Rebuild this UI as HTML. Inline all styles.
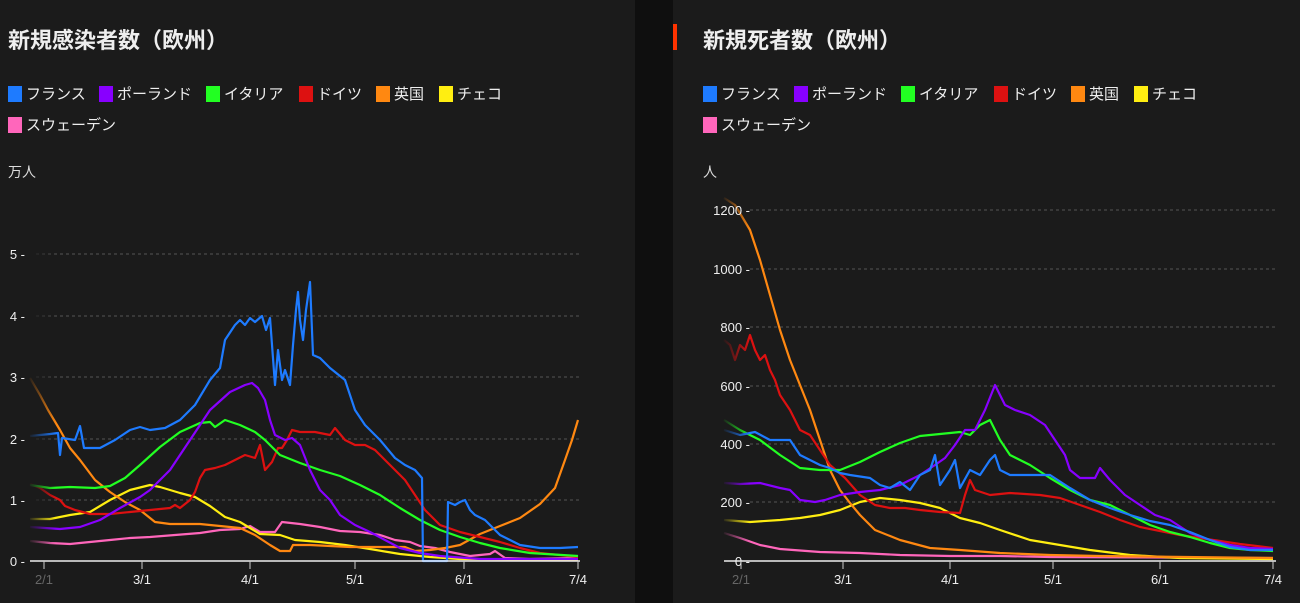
<!DOCTYPE html>
<html><head><meta charset="utf-8"><style>
html,body{margin:0;padding:0;background:#0f0f0f;width:1300px;height:603px;overflow:hidden}
svg{display:block}
text{font-family:"Liberation Sans","Noto Sans CJK JP",sans-serif;fill:#eee}
.t{font-size:22px;font-weight:bold}
.l{font-size:15px}
.k{font-size:13px;fill:#ddd}
.s{fill:none;stroke-width:2.2;stroke-linejoin:round}
.g{stroke:#555;stroke-dasharray:3 3;stroke-width:1}
</style></head><body>
<svg width="1300" height="603" viewBox="0 0 1300 603">
<defs>
<linearGradient id="fd" x1="0" x2="1"><stop offset="0" stop-color="#1b1b1b" stop-opacity="1"/><stop offset="1" stop-color="#1b1b1b" stop-opacity="0"/></linearGradient>
</defs>
<rect x="0" y="0" width="635" height="603" fill="#1b1b1b"/>
<rect x="673" y="0" width="627" height="603" fill="#1b1b1b"/>
<rect x="673" y="24" width="4" height="26" fill="#ff3300"/>

<!-- LEFT -->
<text x="8" y="48" class="t">新規感染者数（欧州）</text>
<g class="l">
<rect x="8" y="86" width="14" height="16" fill="#1e7bff"/><text x="26" y="99">フランス</text>
<rect x="99" y="86" width="14" height="16" fill="#8800ff"/><text x="117" y="99">ポーランド</text>
<rect x="206" y="86" width="14" height="16" fill="#22ff22"/><text x="224" y="99">イタリア</text>
<rect x="299" y="86" width="14" height="16" fill="#dd1111"/><text x="317" y="99">ドイツ</text>
<rect x="376" y="86" width="14" height="16" fill="#ff8811"/><text x="394" y="99">英国</text>
<rect x="439" y="86" width="14" height="16" fill="#ffee11"/><text x="457" y="99">チェコ</text>
<rect x="8" y="117" width="14" height="16" fill="#ff66bb"/><text x="26" y="130">スウェーデン</text>
</g>
<text x="8" y="177" class="k" style="font-size:14px">万人</text>
<g>
<line x1="36" x2="580" y1="254" y2="254" class="g"/><line x1="36" x2="580" y1="316" y2="316" class="g"/>
<line x1="36" x2="580" y1="377" y2="377" class="g"/><line x1="36" x2="580" y1="439" y2="439" class="g"/>
<line x1="36" x2="580" y1="500" y2="500" class="g"/>
</g>
<polyline class="s" stroke="#ff66bb" points="30,541 50,543 70,544 90,542 110,540 130,538 150,537 175,535 200,533 220,530 240,529 250,526 260,532 275,532 282,522 300,524 320,527 340,531 360,532 380,535 395,540 410,542 420,546 435,548 450,552 470,556 490,554 495,551 505,558 530,559 578,558"/>
<polyline class="s" stroke="#ffee11" points="30,519 50,519 70,515 90,512 110,500 130,490 150,485 160,487 180,493 195,497 210,506 225,517 240,522 250,528 260,534 280,535 295,540 320,542 345,545 370,549 400,554 430,557 460,559 578,560"/>
<polyline class="s" stroke="#ff8811" points="30,378 40,395 48,410 60,430 70,448 80,460 95,480 110,492 125,502 140,510 155,522 170,524 200,524 220,526 240,528 255,535 270,545 280,551 290,551 293,545 310,545 330,546 350,547 370,547 390,547 405,547 415,551 430,550 445,548 460,545 480,534 500,526 520,518 540,504 555,488 565,460 572,440 578,420"/>
<polyline class="s" stroke="#dd1111" points="30,484 40,488 50,495 60,500 65,506 75,510 90,514 110,514 130,512 150,510 170,508 175,505 180,508 190,500 195,492 200,478 205,470 215,468 225,465 235,460 245,455 255,458 260,445 265,470 272,462 278,448 282,448 287,440 292,430 300,432 315,432 330,435 335,428 345,440 355,445 365,445 375,450 385,460 395,470 405,480 415,495 425,510 440,525 460,532 480,537 500,542 520,548 540,553 578,557"/>
<polyline class="s" stroke="#22ff22" points="30,485 50,488 70,487 95,488 110,486 125,478 140,465 160,447 180,432 200,423 210,422 215,427 225,420 240,425 255,432 265,440 280,455 300,463 320,470 340,476 360,485 380,495 400,508 420,520 440,530 460,537 480,543 500,548 530,553 578,556"/>
<polyline class="s" stroke="#8800ff" points="30,527 60,529 80,527 100,520 120,508 140,497 150,490 170,470 190,440 210,410 230,392 245,385 252,383 258,388 265,400 270,420 275,435 285,440 292,438 300,445 310,470 320,490 330,500 340,515 355,525 370,532 385,540 400,548 420,553 440,556 480,559 578,559"/>
<polyline class="s" stroke="#1e7bff" points="30,436 50,434 58,433 60,455 62,438 75,440 80,426 84,448 100,448 115,440 130,430 140,427 150,430 165,428 180,420 195,405 210,380 220,368 225,340 235,325 240,320 245,325 250,318 255,322 262,316 266,330 270,318 275,385 278,350 282,380 285,370 290,385 293,345 296,310 298,292 300,320 303,340 306,310 310,282 313,355 320,358 330,368 345,380 355,410 365,425 380,440 395,458 405,465 415,470 422,478 423,561 447,561 448,502 455,505 460,502 465,500 470,510 475,515 485,520 500,535 520,545 540,548 560,548 578,547"/>
<rect x="28" y="180" width="28" height="382" fill="url(#fd)"/>
<g class="k" text-anchor="end">
<text x="25" y="259">5 -</text><text x="25" y="321">4 -</text><text x="25" y="382">3 -</text>
<text x="25" y="444">2 -</text><text x="25" y="505">1 -</text><text x="25" y="566">0 -</text>
</g>
<line x1="30" x2="580" y1="561" y2="561" stroke="#eee" stroke-width="1.5"/>
<g stroke="#ccc" stroke-width="1"><line x1="44" x2="44" y1="561" y2="569"/><line x1="142" x2="142" y1="561" y2="569"/><line x1="250" x2="250" y1="561" y2="569"/><line x1="355" x2="355" y1="561" y2="569"/><line x1="464" x2="464" y1="561" y2="569"/><line x1="578" x2="578" y1="561" y2="569"/></g>
<g class="k" text-anchor="middle">
<text x="44" y="584" style="fill:#666">2/1</text><text x="142" y="584">3/1</text><text x="250" y="584">4/1</text><text x="355" y="584">5/1</text><text x="464" y="584">6/1</text><text x="578" y="584">7/4</text>
</g>

<!-- RIGHT -->
<text x="703" y="48" class="t">新規死者数（欧州）</text>
<g class="l">
<rect x="703" y="86" width="14" height="16" fill="#1e7bff"/><text x="721" y="99">フランス</text>
<rect x="794" y="86" width="14" height="16" fill="#8800ff"/><text x="812" y="99">ポーランド</text>
<rect x="901" y="86" width="14" height="16" fill="#22ff22"/><text x="919" y="99">イタリア</text>
<rect x="994" y="86" width="14" height="16" fill="#dd1111"/><text x="1012" y="99">ドイツ</text>
<rect x="1071" y="86" width="14" height="16" fill="#ff8811"/><text x="1089" y="99">英国</text>
<rect x="1134" y="86" width="14" height="16" fill="#ffee11"/><text x="1152" y="99">チェコ</text>
<rect x="703" y="117" width="14" height="16" fill="#ff66bb"/><text x="721" y="130">スウェーデン</text>
</g>
<text x="703" y="177" class="k" style="font-size:14px">人</text>
<g>
<line x1="750" x2="1276" y1="210" y2="210" class="g"/><line x1="750" x2="1276" y1="269" y2="269" class="g"/>
<line x1="750" x2="1276" y1="327" y2="327" class="g"/><line x1="750" x2="1276" y1="386" y2="386" class="g"/>
<line x1="750" x2="1276" y1="444" y2="444" class="g"/><line x1="750" x2="1276" y1="502" y2="502" class="g"/>
</g>
<polyline class="s" stroke="#ff66bb" points="724,533 740,538 760,545 780,549 820,552 860,553 900,555 950,556 1000,556 1050,557 1273,558"/>
<polyline class="s" stroke="#ffee11" points="724,520 750,522 780,520 800,518 820,515 840,510 860,502 880,498 900,500 920,503 940,508 960,518 980,523 1000,530 1030,540 1060,545 1090,550 1130,555 1180,558 1273,559"/>
<polyline class="s" stroke="#ff8811" points="724,198 735,205 750,230 760,260 770,295 780,330 790,360 800,385 810,410 820,440 830,470 840,490 850,503 860,515 875,530 900,540 930,548 960,550 1000,553 1050,555 1100,556 1273,558"/>
<polyline class="s" stroke="#dd1111" points="724,340 730,345 735,360 740,345 745,350 750,335 755,350 760,360 765,355 770,370 775,380 780,395 790,410 800,430 810,435 820,450 830,465 845,478 860,495 875,505 890,508 905,508 920,510 940,512 960,513 965,495 970,480 975,490 990,495 1010,493 1040,495 1060,498 1080,505 1100,512 1120,520 1140,527 1160,531 1180,535 1200,538 1220,541 1240,544 1273,548"/>
<polyline class="s" stroke="#22ff22" points="724,420 740,430 760,440 780,455 800,468 820,470 840,470 860,462 880,452 900,443 920,436 940,434 960,432 970,435 980,425 990,420 1000,440 1010,455 1030,465 1050,478 1070,490 1090,500 1110,505 1130,515 1150,525 1170,532 1190,537 1210,543 1230,548 1250,550 1273,551"/>
<polyline class="s" stroke="#8800ff" points="724,483 740,484 760,483 780,488 790,490 800,500 815,502 825,500 840,495 860,492 880,490 900,485 920,475 935,465 945,458 955,445 965,430 975,430 985,410 995,385 1000,395 1005,405 1015,410 1030,415 1045,425 1055,440 1065,455 1070,470 1080,478 1095,478 1100,468 1110,480 1125,495 1140,505 1155,515 1170,520 1190,533 1210,540 1230,545 1250,548 1273,549"/>
<polyline class="s" stroke="#1e7bff" points="724,430 740,435 755,432 770,440 790,440 800,455 810,460 820,465 830,468 840,473 850,475 870,478 880,485 890,488 900,482 910,490 920,475 930,470 935,455 940,485 950,470 955,460 960,488 970,470 980,475 990,460 995,455 1000,470 1010,475 1030,475 1050,475 1070,488 1090,500 1110,508 1130,515 1150,521 1170,525 1190,532 1210,540 1230,547 1250,550 1273,550"/>
<rect x="722" y="180" width="28" height="382" fill="url(#fd)"/>
<g class="k" text-anchor="end">
<text x="750" y="215">1200 -</text><text x="750" y="274">1000 -</text><text x="750" y="332">800 -</text>
<text x="750" y="391">600 -</text><text x="750" y="449">400 -</text><text x="750" y="507">200 -</text><text x="750" y="566">0 -</text>
</g>
<line x1="724" x2="1276" y1="561" y2="561" stroke="#eee" stroke-width="1.5"/>
<g stroke="#ccc" stroke-width="1"><line x1="741" x2="741" y1="561" y2="569"/><line x1="843" x2="843" y1="561" y2="569"/><line x1="950" x2="950" y1="561" y2="569"/><line x1="1053" x2="1053" y1="561" y2="569"/><line x1="1160" x2="1160" y1="561" y2="569"/><line x1="1273" x2="1273" y1="561" y2="569"/></g>
<g class="k" text-anchor="middle">
<text x="741" y="584" style="fill:#666">2/1</text><text x="843" y="584">3/1</text><text x="950" y="584">4/1</text><text x="1053" y="584">5/1</text><text x="1160" y="584">6/1</text><text x="1273" y="584">7/4</text>
</g>
</svg>
</body></html>
